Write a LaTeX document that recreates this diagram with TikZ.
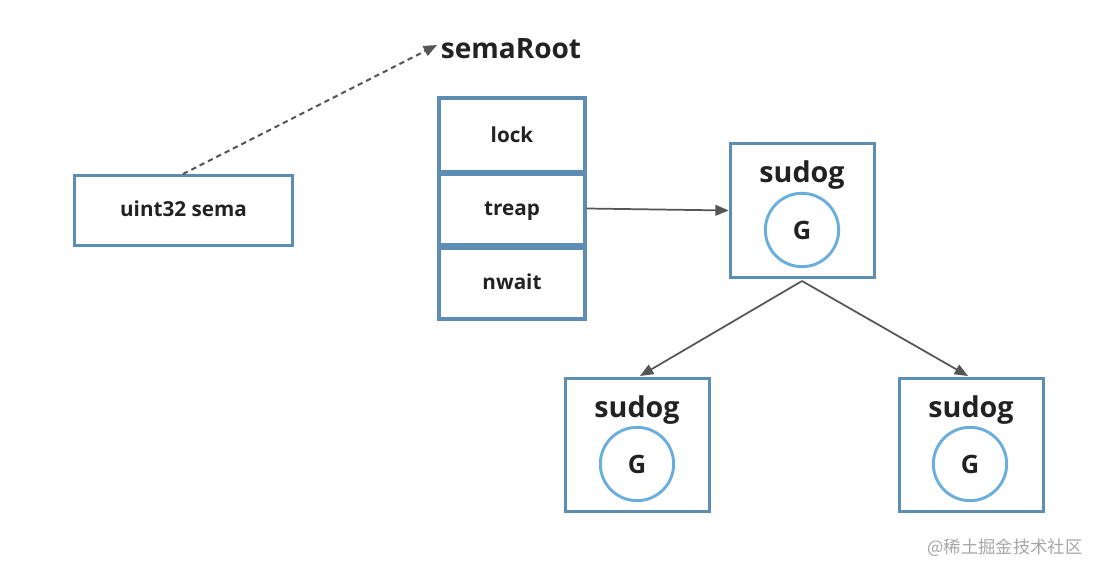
\documentclass[tikz,border=0pt]{standalone}
\usepackage{fontspec}
\setmainfont{Open Sans}
\newfontfamily\cjkfont{Noto Sans CJK SC}
\usetikzlibrary{arrows.meta}
\definecolor{boxblue}{HTML}{5B8DB5}
\definecolor{circblue}{HTML}{6AAEDD}
\definecolor{arrowgray}{HTML}{555555}
\definecolor{txt}{HTML}{222222}
\tikzset{
  px/.style={x=0.75pt,y=-0.75pt},
  fieldbox/.style={draw=boxblue,line width=2.4pt,minimum width=109.5pt,minimum height=55.5pt,inner sep=0pt,text=txt,font=\bfseries\fontsize{15.5}{18}\selectfont,text height=1.15em,text depth=0.05em},
  semabox/.style={draw=boxblue,line width=2.2pt,minimum width=164pt,minimum height=52pt,inner sep=0pt,text=txt,font=\bfseries\fontsize{15.5}{18}\selectfont,text height=1.0em,text depth=0.05em},
  sudogbox/.style={draw=boxblue,line width=2.2pt,minimum width=108.5pt,minimum height=100pt,inner sep=0pt},
  sudoglabel/.style={text=txt,font=\bfseries\fontsize{21.5}{26}\selectfont,inner sep=0pt},
  gcirc/.style={circle,draw=circblue,line width=2.2pt,minimum size=55pt,inner sep=0pt,text=txt,font=\bfseries\fontsize{19}{23}\selectfont},
  conn/.style={draw=arrowgray,line width=1.3pt,-{Triangle[length=10pt,width=8pt]}},
  dconn/.style={draw=arrowgray,line width=1.5pt,dash pattern=on 4pt off 3pt,-{Triangle[length=10pt,width=8pt]}},
}
\begin{document}
\begin{tikzpicture}[px]
\useasboundingbox (0,0) rectangle (1103,577);
\node[semabox] (sema) at (183.5,210.5) {uint32 sema};
\node[text=txt,font=\bfseries\fontsize{21}{25}\selectfont,inner sep=0pt] (root) at (511,49) {semaRoot};
\node[fieldbox] (lock) at (512,135) {lock};
\node[fieldbox] (treap) at (512,208.5) {treap};
\node[fieldbox] (nwait) at (512,282) {nwait};
\draw[boxblue,line width=4pt] (lock.south west) -- (lock.south east);
\draw[boxblue,line width=4pt] (treap.south west) -- (treap.south east);
\node[sudogbox] (s1) at (802.5,210.5) {};
\node[sudoglabel] (s1l) at (802,175) {sudog};
\node[gcirc] (g1) at (802,230) {G};
\node[sudogbox] (s2) at (637.5,445) {};
\node[sudoglabel] (s2l) at (637,410) {sudog};
\node[gcirc] (g2) at (637,464) {G};
\node[sudogbox] (s3) at (971.5,445) {};
\node[sudoglabel] (s3l) at (971,410) {sudog};
\node[gcirc] (g3) at (970,464) {G};
\coordinate (semaTop) at (183,174);
\coordinate (rootW) at (437,45);
\draw[dconn] (semaTop) -- (rootW);
\draw[conn] (treap.east) -- (s1.west);
\coordinate (s1b) at (802,281);
\coordinate (s2t) at (640,376);
\coordinate (s3t) at (968,376);
\draw[conn] (s1b) -- (s2t);
\draw[conn] (s1b) -- (s3t);
\node[text=black!35,font=\cjkfont\fontsize{13}{16}\selectfont,inner sep=0pt] (wm) at (1005,548) {@稀土掘金技术社区};
\end{tikzpicture}
\end{document}
